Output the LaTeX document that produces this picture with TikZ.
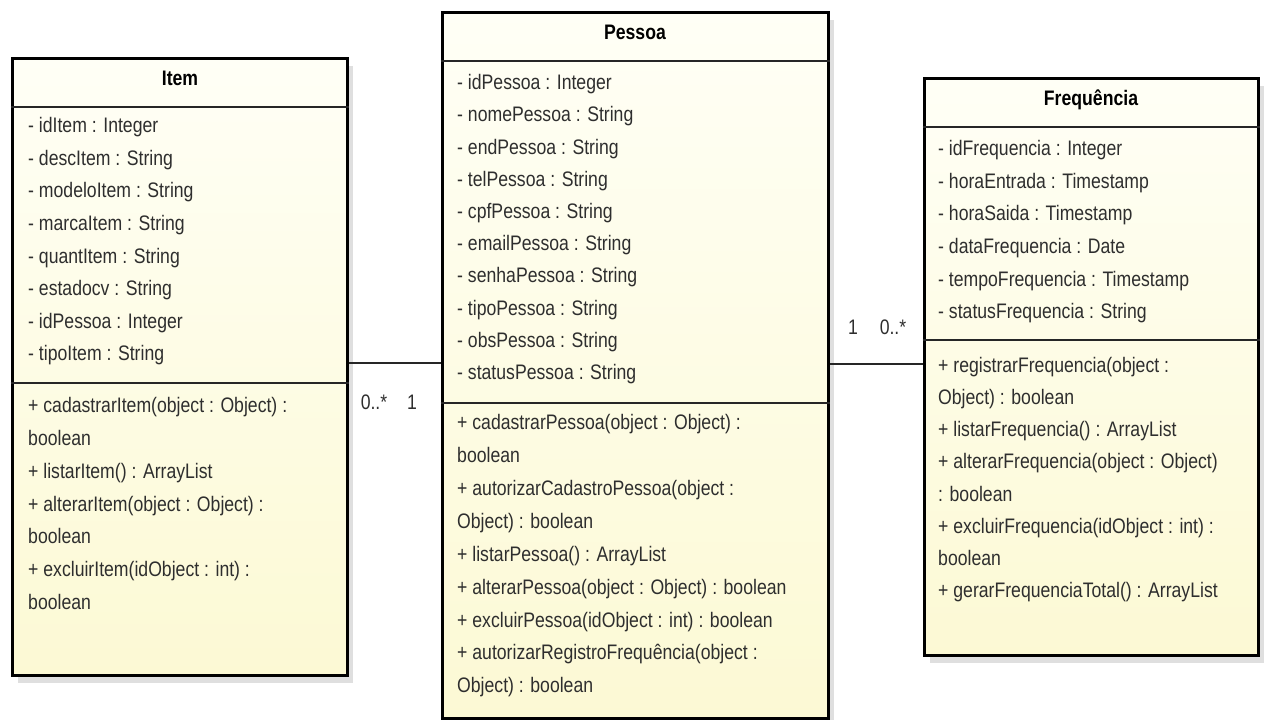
\documentclass[tikz,border=0pt]{standalone}
\usepackage{fontspec}
\setmainfont{Liberation Sans}[FakeStretch=0.84]
\usetikzlibrary{shadows}
\definecolor{umlfill}{HTML}{FCF9D4}
\definecolor{umltop}{HTML}{FFFFF6}
\definecolor{umltext}{HTML}{2E2E2E}
\tikzset{
  classbox/.style n args={2}{draw=black, line width=3pt, inner sep=0pt,
    minimum width=#1, minimum height=#2, top color=umltop, bottom color=umlfill,
    drop shadow={shadow xshift=6pt, shadow yshift=-8pt, fill=black!25, opacity=0.5}},
  sepline/.style={draw=black!85, line width=2pt},
  attr/.style={anchor=mid west, inner sep=0pt, text=umltext, font=\fontsize{21}{24}\selectfont},
  title/.style={anchor=mid, inner sep=0pt, text=black, font=\fontsize{21}{24}\selectfont\bfseries},
  mult/.style={anchor=mid, inner sep=0pt, text=umltext, font=\fontsize{21}{24}\selectfont},
  assoc/.style={draw=black!85, line width=1.5pt}
}
\begin{document}
\begin{tikzpicture}[x=1pt,y=-1pt]
\useasboundingbox (0,0) rectangle (1264,720);
% class boxes
\node[classbox={335pt}{617pt}] (item) at (179.5,366.5) {};
\node[classbox={386pt}{706pt}] (pessoa) at (635,365) {};
\node[classbox={334pt}{577pt}] (freq) at (1091,366.5) {};
% separators
\draw[sepline] (item.west |- 0,107) -- (item.east |- 0,107);
\draw[sepline] (item.west |- 0,383) -- (item.east |- 0,383);
\draw[sepline] (pessoa.west |- 0,61) -- (pessoa.east |- 0,61);
\draw[sepline] (pessoa.west |- 0,403) -- (pessoa.east |- 0,403);
\draw[sepline] (freq.west |- 0,127) -- (freq.east |- 0,127);
\draw[sepline] (freq.west |- 0,340) -- (freq.east |- 0,340);
% titles
\node[title] (itemT) at (180,83) {Item};
\node[title] (pessoaT) at (635,37) {Pessoa};
\node[title] (freqT) at (1091,103) {Frequência};
% Item attributes
\foreach \t [count=\k] in {{- idItem : Integer},{- descItem : String},{- modeloItem : String},{- marcaItem : String},{- quantItem : String},{- estadocv : String},{- idPessoa : Integer},{- tipoItem : String}}
  \node[attr] (ia\k) at (28,{130+32.6*(\k-1)}) {\t};
% Item methods
\foreach \t [count=\k] in {{+ cadastrarItem(object : Object) :},{boolean},{+ listarItem() : ArrayList},{+ alterarItem(object : Object) :},{boolean},{+ excluirItem(idObject : int) :},{boolean}}
  \node[attr] (im\k) at (28,{410+32.8*(\k-1)}) {\t};
% Pessoa attributes
\foreach \t [count=\k] in {{- idPessoa : Integer},{- nomePessoa : String},{- endPessoa : String},{- telPessoa : String},{- cpfPessoa : String},{- emailPessoa : String},{- senhaPessoa : String},{- tipoPessoa : String},{- obsPessoa : String},{- statusPessoa : String}}
  \node[attr] (pa\k) at (457,{87+32.2*(\k-1)}) {\t};
% Pessoa methods
\foreach \t [count=\k] in {{+ cadastrarPessoa(object : Object) :},{boolean},{+ autorizarCadastroPessoa(object :},{Object) : boolean},{+ listarPessoa() : ArrayList},{+ alterarPessoa(object : Object) : boolean},{+ excluirPessoa(idObject : int) : boolean},{+ autorizarRegistroFrequência(object :},{Object) : boolean}}
  \node[attr] (pm\k) at (457,{427+32.9*(\k-1)}) {\t};
% Frequencia attributes
\foreach \t [count=\k] in {{- idFrequencia : Integer},{- horaEntrada : Timestamp},{- horaSaida : Timestamp},{- dataFrequencia : Date},{- tempoFrequencia : Timestamp},{- statusFrequencia : String}}
  \node[attr] (fa\k) at (938,{153+32.6*(\k-1)}) {\t};
% Frequencia methods
\foreach \t [count=\k] in {{+ registrarFrequencia(object :},{Object) : boolean},{+ listarFrequencia() : ArrayList},{+ alterarFrequencia(object : Object)},{: boolean},{+ excluirFrequencia(idObject : int) :},{boolean},{+ gerarFrequenciaTotal() : ArrayList}}
  \node[attr] (fm\k) at (938,{370+32.1*(\k-1)}) {\t};
% associations
\draw[assoc] (item.east |- 0,363) -- (pessoa.west |- 0,363);
\draw[assoc] (pessoa.east |- 0,364) -- (freq.west |- 0,364);
% multiplicities
\node[mult] (m1) at (374,407) {0..*};
\node[mult] (m2) at (412,407) {1};
\node[mult] (m3) at (853,332) {1};
\node[mult] (m4) at (893,332) {0..*};
\end{tikzpicture}
\end{document}
